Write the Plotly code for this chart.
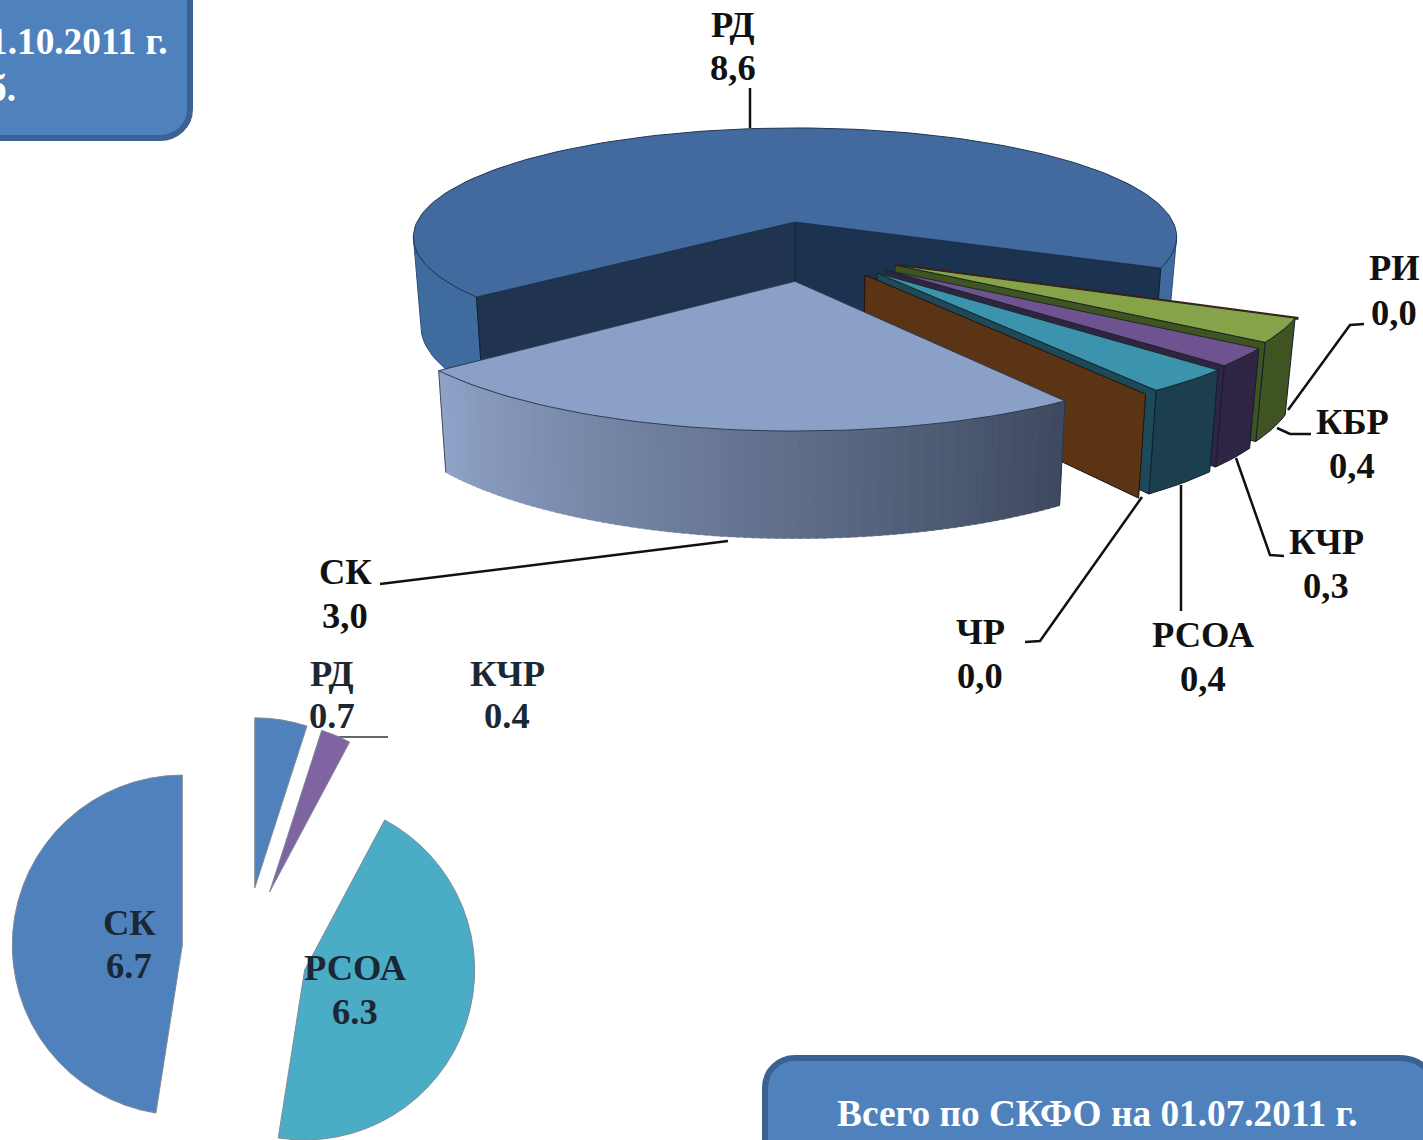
import math
import plotly.graph_objects as go

# ---- data ----
top_labels = ["РД", "РИ", "КБР", "КЧР", "РСОА", "ЧР", "СК"]
top_values = [8.6, 0.0, 0.4, 0.3, 0.4, 0.0, 3.0]
top_texts = ["8,6", "0,0", "0,4", "0,3", "0,4", "0,0", "3,0"]
pie_labels = ["РД", "КЧР", "РСОА", "СК"]
pie_values = [0.7, 0.4, 6.3, 6.7]
box_top = ["Всего по СКФО на 01.10.2011 г.", "12,7 млрд. руб."]
box_bottom = "Всего по СКФО на 01.07.2011 г."

# ---- styling / layout ----
FONT = "Liberation Serif"
W, HT = 1423, 1184
cx, cy, A, B, k, DEPTH = 795, 222, 378, 107, 0.1376, 88
total = sum(top_values)


def P(X, Y, low=False):
    d = 1 + k * Y
    x = cx + A * X / d
    y = cy - B * Y / d
    if low:
        x = cx + (x - cx) * 0.98
        y = cy + (y - cy) * 0.98 + DEPTH / d
    return x, y


def rim(ax, ay, r, t, low=False):
    a = math.radians(t)
    return P(ax + r * math.sin(a), ay - r * math.cos(a), low)


def arc(ax, ay, r, t1, t2, low=False):
    n = max(2, int(abs(t2 - t1) / 1.5))
    return [rim(ax, ay, r, t1 + (t2 - t1) * i / n, low) for i in range(n + 1)]


fig = go.Figure()


def poly(pts, fill, line=None, lw=1):
    fig.add_trace(go.Scatter(
        x=[p[0] for p in pts] + [pts[0][0]], y=[p[1] for p in pts] + [pts[0][1]],
        mode="lines", fill="toself", fillcolor=fill,
        line=dict(color=line or fill, width=lw), hoverinfo="skip", showlegend=False))


def seg(pts, color, lw=2):
    fig.add_trace(go.Scatter(x=[p[0] for p in pts], y=[p[1] for p in pts], mode="lines",
                             line=dict(color=color, width=lw), hoverinfo="skip", showlegend=False))


def wall(ax, ay, r, t, fill, edge="#10202e"):
    poly([P(ax, ay), rim(ax, ay, r, t), rim(ax, ay, r, t, True), P(ax, ay, True)], fill, edge)


def span(v):
    return v / total * 360


# big slice РД
rd_start = 66
rd_end = rd_start + span(top_values[0])
poly(arc(0, 0, 1, rd_start, 82) + arc(0, 0, 1, 82, rd_start, True), "#3f6b9f", "#2c4d75")
poly(arc(0, 0, 1, 278, rd_end) + arc(0, 0, 1, rd_end, 278, True), "#3f6b9f", "#2c4d75")
wall(0, 0, 1, rd_start, "#1b3350")
wall(0, 0, 1, rd_end, "#20344f")
poly([P(0, 0)] + arc(0, 0, 1, rd_start, rd_end), "#426a9f", "#1d3553")

# small exploded slices, back to front: angle, apex X, apex Y, radius, colours
t0 = 34.5
t_rsoa = t0 + span(top_values[4])
t_kchr = t_rsoa + span(top_values[3])
t_kbr = t_kchr + span(top_values[2])
small = [
    (t_kchr, t_kbr, 0.2507, -0.381, 1.017, "#86a34a", "#3f5420"),
    (t_rsoa, t_kchr, 0.2267, -0.4225, 1.02, "#6f5390", "#2f2443"),
    (t0, t_rsoa, 0.2036, -0.447, 1.027, "#3b93ad", "#1b3f4d"),
]
# РИ (zero slice) edge
seg([P(0.2507, -0.381), rim(0.2507, -0.381, 1.025, t_kbr)], "#4a1a12", 3)
for t1, t2, ax, ay, r, top, side in small:
    poly(arc(ax, ay, r, t1, t2) + arc(ax, ay, r, t2, t1, True), side, "#10202e")
    wall(ax, ay, r, t1, side if side != "#1b3f4d" else "#1d4a5a")
    poly([P(ax, ay)] + arc(ax, ay, r, t1, t2), top, "#1a2a22")
# ЧР (zero slice) wall
wall(0.1733, -0.464, 1.035, t0, "#5b3416", "#221208")

# СК
sk_end = t0
sk_start = sk_end - span(top_values[6])
sk_ax, sk_ay, sk_r = 0.0, -0.515, 1.025
n = 90
for i in range(n):
    a = sk_start + (sk_end - sk_start) * i / n
    b = sk_start + (sk_end - sk_start) * (i + 1) / n
    f = (i + 0.5) / n
    c0, c1 = (143, 163, 200), (62, 73, 94)
    col = "rgb(%d,%d,%d)" % tuple(round(c0[j] + (c1[j] - c0[j]) * f) for j in range(3))
    poly([rim(sk_ax, sk_ay, sk_r, a), rim(sk_ax, sk_ay, sk_r, min(b + 0.4, sk_end)),
          rim(sk_ax, sk_ay, sk_r, min(b + 0.4, sk_end), True), rim(sk_ax, sk_ay, sk_r, a, True)], col, col, 0.4)
poly([P(sk_ax, sk_ay)] + arc(sk_ax, sk_ay, sk_r, sk_start, sk_end), "#8aa0c6", "#2b3a52")
seg([rim(sk_ax, sk_ay, sk_r, sk_start), rim(sk_ax, sk_ay, sk_r, sk_start, True)], "#444c5c", 1)
seg([rim(sk_ax, sk_ay, sk_r, sk_end), rim(sk_ax, sk_ay, sk_r, sk_end, True)], "#2b3446", 1)

# leader lines
leaders = [
    [(750, 88), (750, 128)],
    [(1364, 324), (1350, 325), (1288, 410)],
    [(1311, 434), (1290, 434), (1277, 428)],
    [(1284, 556), (1270, 555), (1236, 458)],
    [(1181, 611), (1181, 485)],
    [(1025, 642), (1040, 641), (1142, 497)],
    [(380, 584), (728, 541)],
]
for L in leaders:
    seg(L, "#111111", 2.5)

# lower pie
pcx, pcy, pull = 245, 950, 0.37
pr = 170 * (1 + pull)
fig.add_trace(go.Pie(
    labels=pie_labels, values=pie_values, sort=False, direction="clockwise", rotation=0,
    pull=[pull] * 4, textinfo="none", hoverinfo="skip", showlegend=False,
    marker=dict(colors=["#4f81bd", "#8064a2", "#4bacc6", "#4f81bd"],
                line=dict(color="#7f8a96", width=1)),
    domain=dict(x=[(pcx - pr) / W, (pcx + pr) / W], y=[1 - (pcy + pr) / HT, 1 - (pcy - pr) / HT]),
))
seg([(337, 737), (388, 737)], "#666666", 2)

# annotations
ann = []


def text(x, y, s, color="#111111", size=36.5, anchor="center"):
    ann.append(dict(x=x, y=y, xref="x", yref="y", text="<b>%s</b>" % s, showarrow=False,
                    xanchor=anchor, yanchor="middle",
                    font=dict(family=FONT, size=size, color=color)))


top_pos = [(733, 24, 67), (1394, 267, 312), (1352, 421, 465), (1326, 541, 585),
           (1203, 634, 678), (980, 631, 675), (345, 571, 615)]
for lab, val, (x, y1, y2) in zip(top_labels, top_texts, top_pos):
    text(x, y1, lab)
    text(x, y2, val)

pie_pos = [(332, 673, 715), (507, 673, 715), (355, 967, 1011), (129, 922, 965)]
for lab, val, (x, y1, y2) in zip(pie_labels, pie_values, pie_pos):
    text(x, y1, lab, "#1b2733")
    text(x, y2, "%.1f" % val, "#1b2733")

text(170, 41, box_top[0], "#ffffff", 37.3, "right")
text(18, 88, box_top[1], "#ffffff", 37.3, "right")
text(1097, 1113, box_bottom, "#ffffff", 37.3)

shapes = [
    dict(type="path", xref="x", yref="y", layer="below",
         path="M -20 -20 L 190 -20 L 190 109 C 190 126 176 138 160 138 L -20 138 Z",
         fillcolor="#4f81bd", line=dict(color="#3a6192", width=6)),
    dict(type="path", xref="x", yref="y", layer="below",
         path="M 765 1200 L 765 1088 C 765 1071 778 1058 795 1058 L 1400 1058 C 1412 1058 1420 1062 1430 1072 L 1440 1200 Z",
         fillcolor="#4f81bd", line=dict(color="#3a6192", width=6)),
]

fig.update_layout(
    width=W, height=HT, margin=dict(l=0, r=0, t=0, b=0),
    paper_bgcolor="#ffffff", plot_bgcolor="#ffffff", showlegend=False,
    xaxis=dict(range=[0, W], visible=False, fixedrange=True),
    yaxis=dict(range=[HT, 0], visible=False, fixedrange=True),
    shapes=shapes, annotations=ann,
)
fig.write_html("out.html", config=dict(displayModeBar=False),
               post_script="document.body.style.margin='0';document.documentElement.style.overflow='hidden';")
